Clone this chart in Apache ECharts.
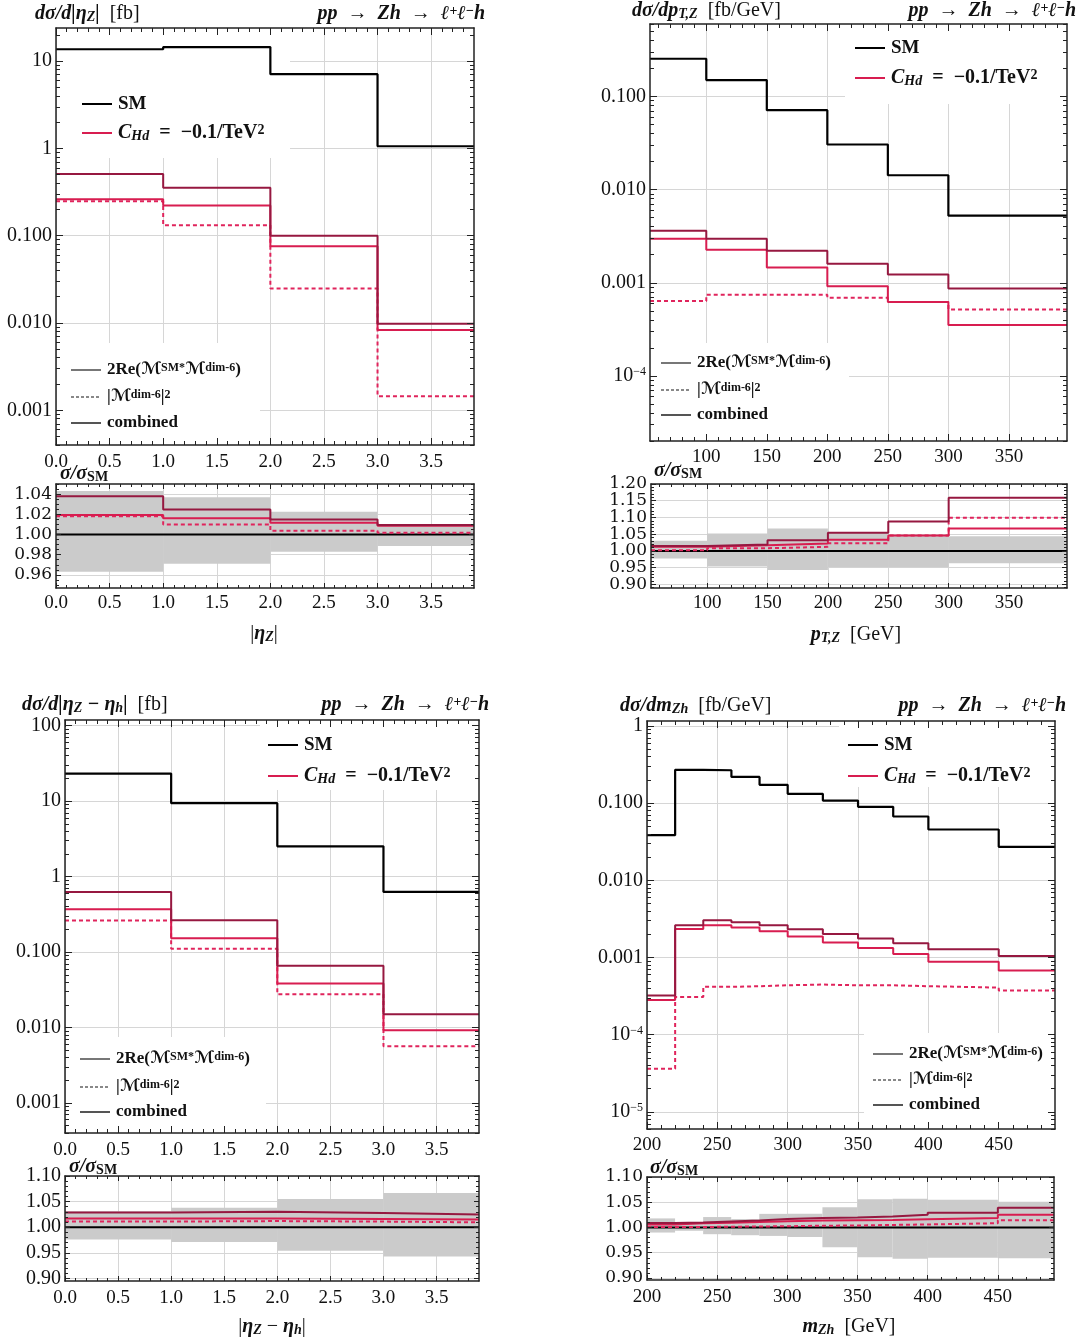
<!DOCTYPE html>
<html>
<head>
<meta charset="utf-8">
<script src="https://cdn.jsdelivr.net/npm/echarts@6/dist/echarts.min.js"></script>
<style>
  html, body { margin: 0; padding: 0; background: #fff; }
  #main { width: 1084px; height: 1342px; }
</style>
</head>
<body>
<div id="main"></div>
<script>
// ---- data ----
// |eta_Z|
const etaZEdges = [0, 1, 2, 3, 3.9];
const etaZSM = [13.7, 14.5, 7.1, 1.06];
const etaZComb = [0.51, 0.354, 0.100, 0.0098];
const etaZInt = [0.262, 0.222, 0.0758, 0.0083];
const etaZSq = [0.249, 0.132, 0.0248, 0.00145];
const etaZRatioComb = [1.0378, 1.0247, 1.0148, 1.0095];
const etaZRatioInt = [1.0194, 1.0161, 1.0115, 1.0086];
const etaZRatioSq = [1.018, 1.0099, 1.0036, 1.0016];
const etaZBandLo = [0.9632, 0.971, 0.9829, 0.9885];
const etaZBandHi = [1.043, 1.0368, 1.0224, 1.0105];

// p_T,Z
const ptEdges = [53.5, 100, 150, 200, 250, 300, 398];
const ptSM = [0.254, 0.150, 0.0713, 0.0305, 0.01426, 0.00525];
const ptComb = [0.00362, 0.00297, 0.00221, 0.0016, 0.00123, 0.000869];
const ptInt = [0.00297, 0.00226, 0.00146, 0.00092, 0.00062, 0.000351];
const ptSq = [0.000636, 0.000743, 0.000743, 0.00069, 0.00062, 0.000517];
const ptRatioComb = [1.0146, 1.019, 1.032, 1.054, 1.088, 1.159];
const ptRatioInt = [1.012, 1.0165, 1.022, 1.033, 1.046, 1.067];
const ptRatioSq = [1.002, 1.008, 1.012, 1.023, 1.046, 1.099];
const ptBandLo = [0.977, 0.953, 0.943, 0.951, 0.951, 0.963];
const ptBandHi = [1.030, 1.052, 1.067, 1.054, 1.045, 1.044];

// |eta_Z - eta_h|
const dEtaEdges = [0, 1, 2, 3, 3.9];
const dEtaSM = [23.2, 9.41, 2.52, 0.627];
const dEtaComb = [0.627, 0.264, 0.066, 0.0150];
const dEtaInt = [0.370, 0.152, 0.0383, 0.00922];
const dEtaSq = [0.262, 0.111, 0.0277, 0.00566];
const dEtaRatioComb = [1.0287, 1.030, 1.028, 1.0248];
const dEtaRatioInt = [1.017, 1.017, 1.016, 1.015];
const dEtaRatioSq = [1.011, 1.012, 1.011, 1.0095];
const dEtaBandLo = [0.976, 0.971, 0.954, 0.943];
const dEtaBandHi = [1.031, 1.038, 1.055, 1.067];

// m_Zh
const mEdges = [200, 220, 240, 260, 280, 300, 325, 350, 375, 400, 450, 490];
const mSM = [0.0385, 0.270, 0.267, 0.219, 0.173, 0.132, 0.108, 0.0896, 0.0672, 0.0456, 0.0272];
const mComb = [0.000321, 0.00262, 0.00305, 0.00287, 0.00262, 0.00233, 0.00201, 0.00176, 0.00153, 0.00128, 0.00105];
const mInt = [0.000282, 0.00235, 0.00262, 0.00245, 0.00219, 0.00187, 0.00156, 0.00133, 0.00111, 0.00088, 0.00068];
const mSq = [0.0000362, 0.000309, 0.000417, 0.000425, 0.000437, 0.000446, 0.000437, 0.000437, 0.000425, 0.000408, 0.000373];
const mRatioComb = [1.0087, 1.010, 1.012, 1.014, 1.0167, 1.0187, 1.020, 1.022, 1.0253, 1.0293, 1.039];
const mRatioInt = [1.006, 1.0085, 1.0095, 1.011, 1.0125, 1.014, 1.0145, 1.015, 1.0165, 1.019, 1.025];
const mRatioSq = [1.001, 1.001, 1.0015, 1.002, 1.0025, 1.0035, 1.004, 1.005, 1.006, 1.0085, 1.0145];
const mBandLo = [0.990, 0.9935, 0.9867, 0.9847, 0.9833, 0.981, 0.9607, 0.941, 0.938, 0.940, 0.939];
const mBandHi = [1.018, 1.011, 1.0207, 1.0167, 1.027, 1.027, 1.040, 1.056, 1.057, 1.055, 1.051];

const ratioSM = 1;

// ---- styling ----
const SERIF = '"Liberation Serif", "DejaVu Serif", "DejaVu Sans", serif';
const WIDE = '"DejaVu Serif", serif';
const C_COMB = '#961840';
const C_INT = '#d81d50';
const C_SQ = '#e0245c';
const FRAME = '#222';
const GRID_C = '#d6d6d6';
const SP = '\u2002';

function linTicks(a, b, step) {
  const out = [];
  const n = Math.round((b - a) / step);
  for (let i = 0; i <= n; i++) out.push(+(a + i * step).toFixed(6));
  return out;
}
function logMajor(a, b) {
  const out = [];
  for (let k = a; k <= b; k++) out.push(+Math.pow(10, k).toPrecision(6));
  return out;
}
function logMinor(a, b) {
  const out = [];
  for (let k = a; k <= b; k++) for (let m = 2; m <= 9; m++) out.push(+(m * Math.pow(10, k)).toPrecision(6));
  return out;
}
function logFmt(v) {
  if (v >= 1) return String(Math.round(v));
  if (v >= 0.00099) return v.toFixed(3);
  return '10{sup|\u2212' + Math.round(-Math.log10(v)) + '}';
}

const grids = [], xAxes = [], yAxes = [], series = [], graphics = [];

// axes with labels + grid lines, and two frame sides with inward ticks
function addAxes(list, dim, gi, o) {
  const base = { type: o.type, gridIndex: gi, min: o.min, max: o.max, silent: true };
  if (o.type === 'log') base.logBase = 10;
  const first = list.length;
  // labels split over two axes so that tight labels are never dropped
  const groups = o.split ? [o.major.filter((v, i) => i % 2 === 0), o.major.filter((v, i) => i % 2 === 1)] : [o.major];
  groups.forEach(vals => {
    list.push(Object.assign({}, base, {
      position: dim === 'x' ? 'bottom' : 'left', z: 0,
      axisLine: { show: false, onZero: false },
      axisTick: { show: false, customValues: vals },
      axisLabel: {
        show: true, customValues: vals, formatter: o.fmt, margin: o.margin,
        showMinLabel: true, showMaxLabel: true,
        color: '#111', fontFamily: o.font || SERIF, fontSize: o.size,
        rich: { sup: { fontSize: 12, verticalAlign: 'top', fontFamily: SERIF, color: '#111', padding: [0, 0, 8, 0] } }
      },
      splitLine: { show: true, lineStyle: { color: GRID_C, width: 1 } }
    }));
  });
  const sides = dim === 'x' ? ['bottom', 'top'] : ['left', 'right'];
  sides.forEach(pos => {
    list.push(Object.assign({}, base, {
      position: pos, z: 5,
      axisLine: { show: true, onZero: false, lineStyle: { color: FRAME, width: 1.5 } },
      axisTick: { show: true, inside: true, length: o.tick, customValues: o.major, lineStyle: { color: FRAME, width: 1 } },
      axisLabel: { show: false }, splitLine: { show: false }
    }));
    list.push(Object.assign({}, base, {
      position: pos, z: 5,
      axisLine: { show: false, onZero: false },
      axisTick: { show: true, inside: true, length: Math.round(o.tick * 0.55), customValues: o.minor, lineStyle: { color: FRAME, width: 1 } },
      axisLabel: { show: false }, splitLine: { show: false }
    }));
  });
  return first;
}

function stepPts(edges, vals) {
  return edges.map((e, i) => [e, vals[Math.min(i, vals.length - 1)]]);
}
function stepLine(xi, yi, data, color, width, dash, z) {
  return {
    type: 'line', xAxisIndex: xi, yAxisIndex: yi, data: data, step: 'end',
    symbol: 'none', showSymbol: false, silent: true, z: z || 3,
    lineStyle: { color: color, width: width, type: dash || 'solid' }
  };
}

function rich(s) {
  const f = SERIF, c = '#111';
  const small = Math.round(s * 0.68);
  return {
    r: { fontSize: s, fontFamily: f, fill: c },
    b: { fontSize: s, fontFamily: f, fontWeight: 'bold', fill: c },
    i: { fontSize: s, fontFamily: f, fontStyle: 'italic', fill: c },
    bi: { fontSize: s, fontFamily: f, fontStyle: 'italic', fontWeight: 'bold', fill: c },
    sup: { fontSize: small, fontFamily: f, fontWeight: 'bold', fill: c, verticalAlign: 'top' },
    sub: { fontSize: small, fontFamily: f, fontWeight: 'bold', fill: c, verticalAlign: 'bottom' },
    bisub: { fontSize: small, fontFamily: f, fontWeight: 'bold', fontStyle: 'italic', fill: c, verticalAlign: 'bottom' }
  };
}
function text(x, y, str, size, align) {
  graphics.push({
    type: 'text', x: x, y: y, z: 20, silent: true,
    style: {
      text: str, fontSize: size, fontFamily: SERIF, fill: '#111',
      align: align || 'left', verticalAlign: 'middle', rich: rich(size)
    }
  });
}
function seg(x1, y1, x2, y2, color, dash) {
  graphics.push({
    type: 'line', z: 20, silent: true,
    shape: { x1: x1, y1: y1, x2: x2, y2: y2 },
    style: { stroke: color, lineWidth: 2, lineDash: dash || null }
  });
}
function box(x, y, w, h) {
  graphics.push({ type: 'rect', z: 1, silent: true, shape: { x: x, y: y, width: w, height: h }, style: { fill: '#fff' } });
}

function buildPanel(p) {
  const gm = grids.length;
  grids.push(p.mainBox);
  const gr = grids.length;
  grids.push(p.ratioBox);

  const mx = addAxes(xAxes, 'x', gm, { type: 'value', min: p.xMin, max: p.xMax, major: p.xMajor, minor: p.xMinor, fmt: p.xFmt, margin: p.mainXMargin, size: 19, tick: 7 });
  const my = addAxes(yAxes, 'y', gm, { type: 'log', min: p.yMin, max: p.yMax, major: logMajor(-6, 2), minor: logMinor(-6, 2), fmt: logFmt, margin: 4, size: 20, tick: 7 });

  series.push(stepLine(mx, my, stepPts(p.edges, p.sm), '#000', 2.2));
  series.push(stepLine(mx, my, stepPts(p.edges, p.sq), C_SQ, 2, [4, 3]));
  series.push(stepLine(mx, my, stepPts(p.edges, p.int), C_INT, 2));
  series.push(stepLine(mx, my, stepPts(p.edges, p.comb), C_COMB, 2));

  const rx = addAxes(xAxes, 'x', gr, { type: 'value', min: p.xMin, max: p.xMax, major: p.xMajor, minor: p.xMinor, fmt: p.xFmt, margin: p.ratioXMargin, size: 19, tick: 5 });
  const ry = addAxes(yAxes, 'y', gr, { type: 'value', min: p.rMin, max: p.rMax, major: p.rMajor, minor: p.rMinor, fmt: v => v.toFixed(2), margin: 4, size: p.rSize, font: p.rFont, split: true, tick: 5 });

  const bands = p.bandLo.map((lo, i) => [p.edges[i], p.edges[i + 1], lo, p.bandHi[i]]);
  series.push({
    type: 'custom', xAxisIndex: rx, yAxisIndex: ry, z: 1, silent: true,
    data: bands, encode: { x: [0, 1], y: [2, 3] }, clip: true,
    renderItem: function (params, api) {
      const a = api.coord([api.value(0), api.value(3)]);
      const b = api.coord([api.value(1), api.value(2)]);
      return { type: 'rect', shape: { x: a[0], y: a[1], width: b[0] - a[0], height: b[1] - a[1] }, style: { fill: '#cbcbcb' } };
    }
  });
  series.push({
    type: 'line', xAxisIndex: rx, yAxisIndex: ry, z: 2, symbol: 'none', silent: true,
    data: [[p.xMin, ratioSM], [p.xMax, ratioSM]], lineStyle: { color: '#000', width: 2 }
  });
  series.push(stepLine(rx, ry, stepPts(p.edges, p.rSq), C_SQ, 2, [4, 3]));
  series.push(stepLine(rx, ry, stepPts(p.edges, p.rInt), C_INT, 2));
  series.push(stepLine(rx, ry, stepPts(p.edges, p.rComb), C_COMB, 2));

  // legend backgrounds
  p.boxes.forEach(b => box(b[0], b[1], b[2], b[3]));
  // titles
  text(p.title[0], p.title[1], p.title[2], 20);
  text(p.proc[0], p.proc[1], '{bi|pp}{b|' + SP + '\u2192' + SP + '}{bi|Zh}{b|' + SP + '\u2192' + SP + '}{bi|\u2113}{sup|+}{bi|\u2113}{sup|\u2212}{bi|h}', 20, 'right');
  text(p.ratioLab[0], p.ratioLab[1], '{bi|\u03c3/\u03c3}{sub|SM}', 20);
  text(p.xName[0], p.xName[1], p.xName[2], 20, 'center');
  // legend 1
  const L = p.leg1;
  seg(L[0], L[1], L[0] + 30, L[1], '#000');
  text(L[0] + 36, L[1], '{b|SM}', 19);
  seg(L[0], L[2], L[0] + 30, L[2], C_INT);
  text(L[0] + 36, L[2], '{bi|C}{bisub|Hd}{b|' + SP + '=' + SP + '\u22120.1/TeV}{sup|2}', 20);
  // legend 2
  const M = p.leg2;
  seg(M[0], M[1], M[0] + 30, M[1], '#777');
  text(M[0] + 36, M[1], '{b|2Re(\u2133}{sup|SM*}{b|\u2133}{sup|dim-6}{b|)}', 17);
  seg(M[0], M[2], M[0] + 30, M[2], '#888', [3, 2]);
  text(M[0] + 36, M[2], '{b||\u2133}{sup|dim-6}{b||}{sup|2}', 17);
  seg(M[0], M[3], M[0] + 30, M[3], '#555');
  text(M[0] + 36, M[3], '{b|combined}', 17);
}

const f1 = v => v.toFixed(1);
const f0 = v => String(Math.round(v));

buildPanel({
  mainBox: { left: 56, top: 28, width: 418, height: 417 },
  ratioBox: { left: 56, top: 484, width: 418, height: 104 },
  xMin: 0, xMax: 3.9, xMajor: linTicks(0, 3.5, 0.5), xMinor: linTicks(0.1, 3.8, 0.1), xFmt: f1,
  yMin: 4e-4, yMax: 24, mainXMargin: 8, ratioXMargin: 6,
  rMin: 0.947, rMax: 1.05, rMajor: linTicks(0.96, 1.04, 0.02), rMinor: linTicks(0.95, 1.05, 0.005), rSize: 17, rFont: WIDE,
  edges: etaZEdges, sm: etaZSM, comb: etaZComb, int: etaZInt, sq: etaZSq,
  rComb: etaZRatioComb, rInt: etaZRatioInt, rSq: etaZRatioSq, bandLo: etaZBandLo, bandHi: etaZBandHi,
  boxes: [[57, 29, 233, 129], [57, 343, 203, 101]],
  title: [35, 14, '{bi|d\u03c3/d|\u03b7}{bisub|Z}{bi||}{r|' + SP + '[fb]}'],
  proc: [485, 14], ratioLab: [60, 474], xName: [264, 634, '{r||}{bi|\u03b7}{bisub|Z}{r||}'],
  leg1: [82, 104, 133], leg2: [71, 370, 397, 423]
});

buildPanel({
  mainBox: { left: 650, top: 24, width: 417, height: 417 },
  ratioBox: { left: 651, top: 484, width: 416, height: 104 },
  xMin: 53.5, xMax: 398, xMajor: linTicks(100, 350, 50), xMinor: linTicks(60, 390, 10), xFmt: f0,
  yMin: 2e-5, yMax: 0.6, mainXMargin: 7, ratioXMargin: 6,
  rMin: 0.889, rMax: 1.2, rMajor: linTicks(0.9, 1.2, 0.05), rMinor: linTicks(0.89, 1.2, 0.01), rSize: 17, rFont: WIDE,
  edges: ptEdges, sm: ptSM, comb: ptComb, int: ptInt, sq: ptSq,
  rComb: ptRatioComb, rInt: ptRatioInt, rSq: ptRatioSq, bandLo: ptBandLo, bandHi: ptBandHi,
  boxes: [[845, 25, 221, 79], [651, 343, 198, 97]],
  title: [632, 11, '{bi|d\u03c3/dp}{bisub|T,Z}{r|' + SP + '[fb/GeV]}'],
  proc: [1076, 11], ratioLab: [654, 471], xName: [856, 635, '{bi|p}{bisub|T,Z}{r|' + SP + '[GeV]}'],
  leg1: [855, 48, 78], leg2: [661, 363, 390, 415]
});

buildPanel({
  mainBox: { left: 65, top: 720, width: 414, height: 413 },
  ratioBox: { left: 65, top: 1176, width: 414, height: 105 },
  xMin: 0, xMax: 3.9, xMajor: linTicks(0, 3.5, 0.5), xMinor: linTicks(0.1, 3.8, 0.1), xFmt: f1,
  yMin: 4e-4, yMax: 119, mainXMargin: 8, ratioXMargin: 8,
  rMin: 0.895, rMax: 1.1, rMajor: linTicks(0.9, 1.1, 0.05), rMinor: linTicks(0.9, 1.1, 0.01), rSize: 20, rFont: SERIF,
  edges: dEtaEdges, sm: dEtaSM, comb: dEtaComb, int: dEtaInt, sq: dEtaSq,
  rComb: dEtaRatioComb, rInt: dEtaRatioInt, rSq: dEtaRatioSq, bandLo: dEtaBandLo, bandHi: dEtaBandHi,
  boxes: [[260, 721, 218, 69], [66, 1037, 200, 95]],
  title: [22, 705, '{bi|d\u03c3/d|\u03b7}{bisub|Z}{bi| \u2212 \u03b7}{bisub|h}{bi||}{r|' + SP + '[fb]}'],
  proc: [489, 705], ratioLab: [69, 1167], xName: [272, 1327, '{r||}{bi|\u03b7}{bisub|Z}{r| \u2212 }{bi|\u03b7}{bisub|h}{r||}'],
  leg1: [268, 745, 776], leg2: [80, 1059, 1087, 1112]
});

buildPanel({
  mainBox: { left: 647, top: 721, width: 408, height: 408 },
  ratioBox: { left: 647, top: 1177, width: 407, height: 103 },
  xMin: 200, xMax: 490, xMajor: linTicks(200, 450, 50), xMinor: linTicks(210, 480, 10), xFmt: f0,
  yMin: 6e-6, yMax: 1.16, mainXMargin: 7, ratioXMargin: 8,
  rMin: 0.896, rMax: 1.1, rMajor: linTicks(0.9, 1.1, 0.05), rMinor: linTicks(0.9, 1.1, 0.01), rSize: 17, rFont: WIDE,
  edges: mEdges, sm: mSM, comb: mComb, int: mInt, sq: mSq,
  rComb: mRatioComb, rInt: mRatioInt, rSq: mRatioSq, bandLo: mBandLo, bandHi: mBandHi,
  boxes: [[839, 722, 215, 65], [864, 1033, 190, 95]],
  title: [620, 706, '{bi|d\u03c3/dm}{bisub|Zh}{r|' + SP + '[fb/GeV]}'],
  proc: [1066, 706], ratioLab: [650, 1168], xName: [849, 1327, '{bi|m}{bisub|Zh}{r|' + SP + '[GeV]}'],
  leg1: [848, 745, 776], leg2: [873, 1054, 1080, 1105]
});

const chart = echarts.init(document.getElementById('main'));
chart.setOption({
  animation: false,
  backgroundColor: '#fff',
  grid: grids,
  xAxis: xAxes,
  yAxis: yAxes,
  series: series,
  graphic: { elements: graphics }
});
</script>
</body>
</html>
